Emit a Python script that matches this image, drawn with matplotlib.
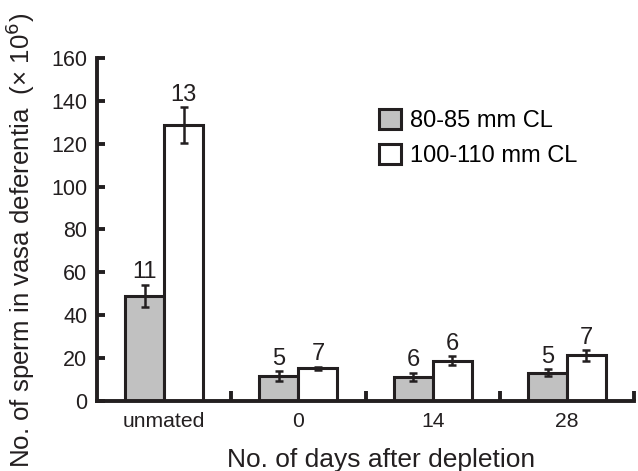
import matplotlib.pyplot as plt
import numpy as np

plt.rcParams['font.family'] = ['Liberation Sans', 'DejaVu Sans']

groups = ['unmated', '0', '14', '28']
small_mean = [48.9, 11.5, 11.2, 13.1]
small_err = [5.2, 2.3, 1.9, 1.7]
small_n = [11, 5, 6, 5]
large_mean = [128.7, 15.1, 18.7, 21.2]
large_err = [8.4, 0.8, 2.2, 2.5]
large_n = [13, 7, 6, 7]
labels = ['80-85 mm CL', '100-110 mm CL']

ink = '#231f20'
fig = plt.figure(figsize=(6.38, 4.71), dpi=100)
ax = fig.add_axes([0.152, 0.149, 0.842, 0.728])

x = np.arange(len(groups))
w = 0.29
ax.bar(x - w / 2, small_mean, w, color='#c1c1c1', edgecolor=ink, linewidth=2.2,
       label=labels[0], zorder=2)
ax.bar(x + w / 2, large_mean, w, color='white', edgecolor=ink, linewidth=2.2,
       label=labels[1], zorder=2)
ax.errorbar(x - w / 2, small_mean, yerr=small_err, fmt='none', ecolor=ink,
            elinewidth=1.8, capsize=3.2, capthick=1.8, zorder=3)
ax.errorbar(x + w / 2, large_mean, yerr=large_err, fmt='none', ecolor=ink,
            elinewidth=1.8, capsize=3.2, capthick=1.8, zorder=3)

for xi, m, e, n in zip(x - w / 2, small_mean, small_err, small_n):
    ax.text(xi, m + e + 3, str(n), ha='center', va='baseline', fontsize=17, color=ink)
for xi, m, e, n in zip(x + w / 2, large_mean, large_err, large_n):
    ax.text(xi, m + e + 3, str(n), ha='center', va='baseline', fontsize=17, color=ink)

ax.set_xlim(-0.5, 3.5)
ax.set_ylim(0, 160)
ax.set_yticks(np.arange(0, 161, 20))
ax.set_xticks(x)
ax.set_xticklabels(groups, fontsize=15.2, color=ink)
ax.set_xticks(np.arange(0.5, 4, 1), minor=True)
ax.tick_params(axis='x', which='major', length=0, pad=8)
ax.tick_params(axis='x', which='minor', direction='in', length=7, width=2.8, color=ink)
ax.tick_params(axis='y', direction='in', length=6, width=2.8, color=ink,
               labelsize=15.5, labelcolor=ink, pad=7)

for s in ['top', 'right']:
    ax.spines[s].set_visible(False)
for s in ['left', 'bottom']:
    ax.spines[s].set_linewidth(2.8)
    ax.spines[s].set_color(ink)

ax.set_xlabel('No. of days after depletion', fontsize=19, color=ink)
ax.xaxis.set_label_coords(0.528, -0.138)
ax.set_ylabel('No. of sperm in vasa deferentia  (× 10$^6$)', fontsize=18.6, color=ink)
ax.yaxis.set_label_coords(-0.112, 0.469)

ax.legend(frameon=False, loc='upper left', bbox_to_anchor=(0.525, 0.852),
          fontsize=17, handlelength=0.93, handleheight=0.93, handletextpad=0.4,
          labelspacing=0.5, borderpad=0, borderaxespad=0)

fig.savefig('out.png', dpi=100)
